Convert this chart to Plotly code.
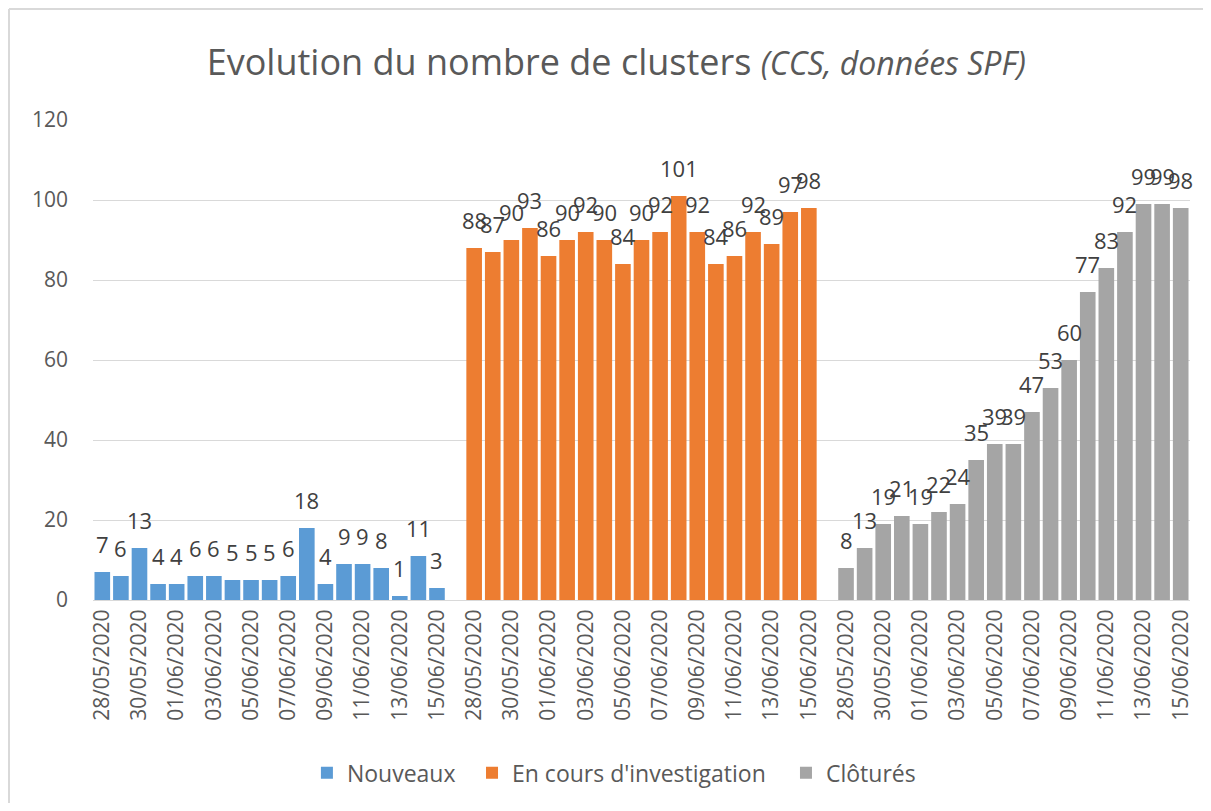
import plotly.graph_objects as go

dates = ["28/05/2020", "29/05/2020", "30/05/2020", "31/05/2020", "01/06/2020",
         "02/06/2020", "03/06/2020", "04/06/2020", "05/06/2020", "06/06/2020",
         "07/06/2020", "08/06/2020", "09/06/2020", "10/06/2020", "11/06/2020",
         "12/06/2020", "13/06/2020", "14/06/2020", "15/06/2020"]

nouveaux = [7, 6, 13, 4, 4, 6, 6, 5, 5, 5, 6, 18, 4, 9, 9, 8, 1, 11, 3]
en_cours = [88, 87, 90, 93, 86, 90, 92, 90, 84, 90, 92, 101, 92, 84, 86, 92, 89, 97, 98]
clotures = [8, 13, 19, 21, 19, 22, 24, 35, 39, 39, 47, 53, 60, 77, 83, 92, 99, 99, 98]

series_names = ["Nouveaux", "En cours d'investigation", "Clôturés"]
series_values = [nouveaux, en_cours, clotures]
colors = ["#5B9BD5", "#ED7D31", "#A5A5A5"]
legend_ids = ["legend", "legend2", "legend3"]
legend_x = [0.195, 0.3455, 0.6317]

FONT = "Open Sans"
n = len(dates)
slot = n + 1  # one empty category between groups

fig = go.Figure()
annotations = []
tickvals, ticktext = [], []
for g, (name, vals, col) in enumerate(zip(series_names, series_values, colors)):
    xs = [g * slot + i for i in range(n)]
    fig.add_trace(go.Bar(
        x=xs, y=vals, name=name, marker=dict(color=col, line=dict(width=0)),
        width=0.84, legend=legend_ids[g],
    ))
    for x, v in zip(xs, vals):
        annotations.append(dict(
            x=x, y=v, text=str(v), showarrow=False, xref="x", yref="y",
            yanchor="bottom", yshift=11,
            font=dict(family=FONT, size=22, color="#404040"),
        ))
    for i in range(0, n, 2):
        tickvals.append(g * slot + i)
        ticktext.append(dates[i])

W, H = 1195, 795
L, R, T, B = 85, 13, 112, 203
pw, ph = W - L - R, H - T - B
bx = (1 - L) / pw
by = 1 + (T - 1) / ph
bb = -(B) / ph

legend_style = dict(
    orientation="h", xanchor="left", yref="container", y=0.038, yanchor="middle",
    font=dict(family=FONT, size=23, color="#595959"),
    itemwidth=30, bgcolor="rgba(0,0,0,0)",
)

fig.update_layout(
    width=W, height=H,
    paper_bgcolor="white", plot_bgcolor="white",
    barmode="overlay",
    margin=dict(l=L, r=R, t=T, b=B, autoexpand=False),
    title=dict(
        text="Evolution du nombre de clusters <i><span style='font-size:32px'>(CCS, données SPF)</span></i>",
        x=0.509, xanchor="center", xref="container", y=0.932, yanchor="middle",
        font=dict(family=FONT, size=36, color="#595959"),
    ),
    font=dict(family=FONT, color="#595959"),
    showlegend=True,
    legend=dict(x=legend_x[0], **legend_style),
    legend2=dict(x=legend_x[1], **legend_style),
    legend3=dict(x=legend_x[2], **legend_style),
    annotations=annotations,
    shapes=[
        dict(type="line", xref="paper", yref="paper", x0=bx, x1=1.1, y0=by, y1=by,
             line=dict(color="#D9D9D9", width=2)),
        dict(type="line", xref="paper", yref="paper", x0=bx, x1=bx, y0=by, y1=bb,
             line=dict(color="#D9D9D9", width=2)),
    ],
)

fig.update_xaxes(
    range=[-0.5, 3 * slot - 1.5],
    tickmode="array", tickvals=tickvals, ticktext=ticktext,
    tickangle=-90, tickfont=dict(family=FONT, size=21, color="#595959"),
    showgrid=False, showline=True, linecolor="#D9D9D9", linewidth=1,
    ticks="", zeroline=False,
)
fig.update_yaxes(
    range=[0, 120], tickvals=[0, 20, 40, 60, 80, 100, 120],
    tickfont=dict(family=FONT, size=21, color="#595959"),
    showgrid=True, gridcolor="#D9D9D9", gridwidth=1,
    zeroline=False, showline=False, ticks="", ticklabelstandoff=24,
)

fig.write_html("out.html")
